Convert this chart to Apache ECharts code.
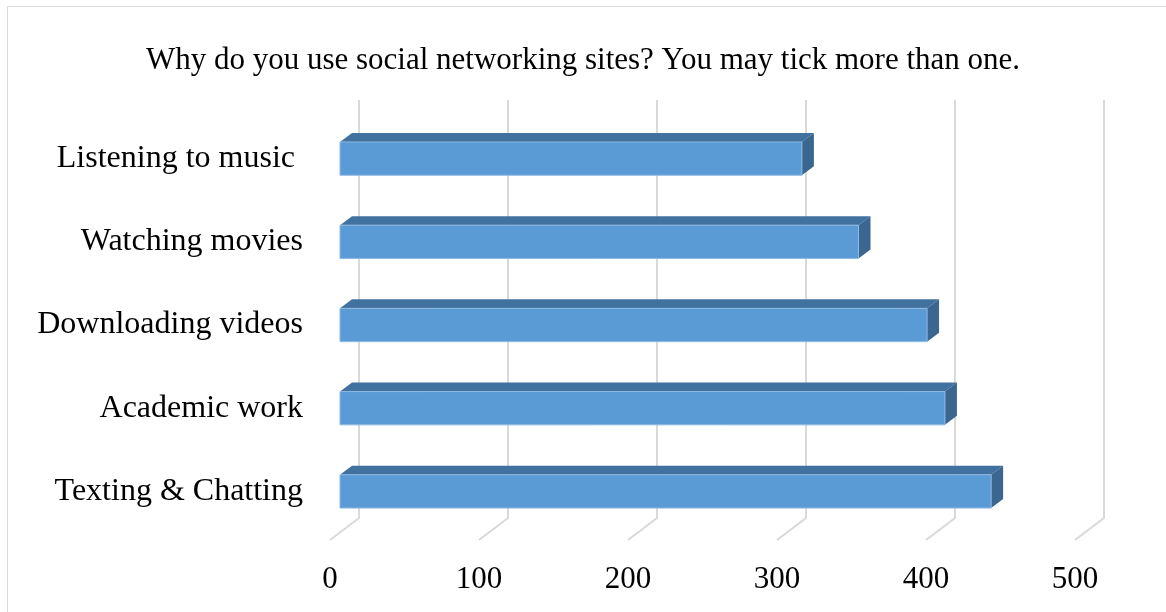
<!DOCTYPE html>
<html>
<head>
<meta charset="utf-8">
<script src="https://cdn.jsdelivr.net/npm/echarts@6/dist/echarts.min.js"></script>
<style>
  html, body { margin: 0; padding: 0; background: #fff; }
  #chart { width: 1166px; height: 612px; }
</style>
</head>
<body>
<div id="chart"></div>
<script>
// Survey answers, bottom to top
const categories = ['Texting & Chatting', 'Academic work', 'Downloading videos', 'Watching movies', 'Listening to music '];
const responses = [437, 406, 394, 348, 310];
const tickValues = [0, 100, 200, 300, 400, 500];
const titleText = 'Why do you use social networking sites? You may tick more than one.';

const FONT = '"Liberation Serif", "Times New Roman", serif';
// oblique depth of the 3-D look
const DEPTH_X = 12, DEPTH_Y = -9;

const chart = echarts.init(document.getElementById('chart'));

function renderGridLine(params, api) {
  const cs = params.coordSys;
  const x = api.coord([api.value(0), 0])[0];
  const top = cs.y - 17;
  const wallBottom = cs.y + cs.height - 15;
  const floorFront = cs.y + cs.height + 7;
  return {
    type: 'polyline',
    shape: { points: [[x + 19, top], [x + 19, wallBottom], [x - 10, floorFront]] },
    style: { stroke: '#D9D9D9', lineWidth: 2, fill: null },
    silent: true
  };
}

function renderBar(params, api) {
  const v = api.value(0);
  const c = api.value(1);
  const p0 = api.coord([0, c]);
  const p1 = api.coord([v, c]);
  const h = api.size([0, 1])[1] * 0.40;
  const x0 = p0[0], x1 = p1[0];
  const yT = p0[1] - h / 2, yB = p0[1] + h / 2;
  return {
    type: 'group',
    children: [
      { type: 'polygon', shape: { points: [[x0, yT], [x1, yT], [x1 + DEPTH_X, yT + DEPTH_Y], [x0 + DEPTH_X, yT + DEPTH_Y]] },
        style: { fill: '#41729F' } },
      { type: 'polygon', shape: { points: [[x1, yT], [x1 + DEPTH_X, yT + DEPTH_Y], [x1 + DEPTH_X, yB + DEPTH_Y], [x1, yB]] },
        style: { fill: '#3B6690' } },
      { type: 'rect', shape: { x: x0, y: yT, width: x1 - x0, height: yB - yT },
        style: { fill: '#5B9BD5', stroke: '#8DB8E2', lineWidth: 1 } }
    ]
  };
}

chart.setOption({
  backgroundColor: '#fff',
  animation: false,
  title: {
    text: titleText,
    left: 'center',
    top: 40,
    textStyle: { fontFamily: FONT, fontSize: 31, fontWeight: 'normal', color: '#000' }
  },
  graphic: [{
    type: 'rect',
    shape: { x: 7.5, y: 6.5, width: 1180, height: 640 },
    style: { fill: null, stroke: '#D9D9D9', lineWidth: 1 },
    silent: true, z: -10
  }],
  grid: { left: 340, right: 81, top: 117, bottom: 79 },
  xAxis: {
    type: 'value', min: 0, max: 500, interval: 100,
    axisLine: { show: false }, axisTick: { show: false }, splitLine: { show: false },
    axisLabel: { fontFamily: FONT, fontSize: 31, color: '#000', margin: 31, padding: [0, 20, 0, 0] }
  },
  yAxis: {
    type: 'category', data: categories,
    axisLine: { show: false }, axisTick: { show: false },
    axisLabel: { fontFamily: FONT, fontSize: 32, color: '#000', margin: 37 }
  },
  series: [
    {
      type: 'custom', name: 'grid', renderItem: renderGridLine,
      data: tickValues.map(v => [v, 0]), encode: { x: 0, y: 1 }, z: 1, clip: false
    },
    {
      type: 'custom', name: 'responses', renderItem: renderBar,
      data: responses.map((v, i) => [v, i]), encode: { x: 0, y: 1 }, z: 2, clip: false
    }
  ]
});
</script>
</body>
</html>
